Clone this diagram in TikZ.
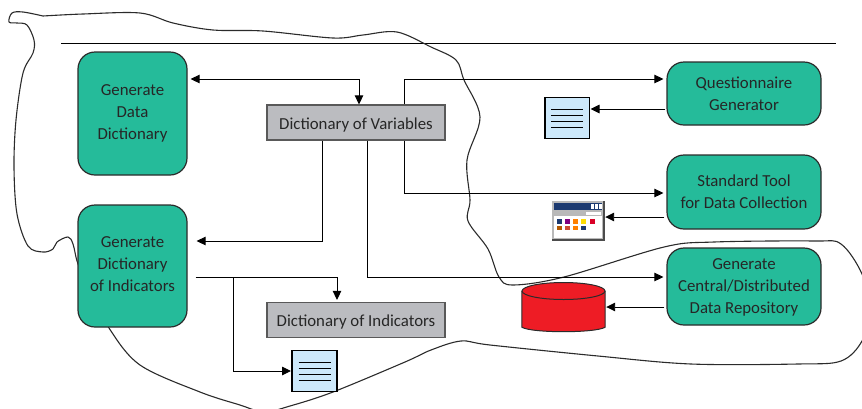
\documentclass[tikz,border=0pt]{standalone}
\usepackage{fontspec}
\setmainfont{Carlito}
\usetikzlibrary{arrows.meta,calc}
\definecolor{teal1}{HTML}{25BB9A}
\definecolor{edge1}{HTML}{2B2B2B}
\definecolor{gray1}{HTML}{BBBCC0}
\definecolor{docblue}{HTML}{CDE9FB}
\definecolor{cylred}{HTML}{EE1C25}
\definecolor{navy1}{HTML}{1C3A70}
\tikzset{
  x=1pt,y=-1pt,
  proc/.style={draw=edge1,fill=teal1,line width=1.2pt,rounded corners=17pt,inner sep=0pt,align=center,
    text=black!85,font=\fontsize{16.8}{22}\selectfont},
  store/.style={draw=black!65,fill=gray1,line width=1.2pt,inner sep=0pt,minimum width=178pt,minimum height=35pt,
    text=black!85,font=\fontsize{16.8}{22}\selectfont},
  docbox/.style={fill=docblue,draw=black,line width=1pt,inner sep=0pt,minimum width=44pt,minimum height=41pt},
  conn/.style={line width=0.95pt,-{Triangle[length=9pt,width=8.5pt]}},
  conn2/.style={line width=0.95pt,{Triangle[length=9pt,width=8.5pt]}-{Triangle[length=9pt,width=8.5pt]}},
  blob/.style={line width=1.1pt,draw=edge1,line join=round},
  docline/.style={line width=0.8pt,black},
}
\newcommand{\up}[1]{\rule{0pt}{#1pt}}
\newcommand{\dn}{\rule[-8pt]{0pt}{8pt}}
\newcommand{\doclines}[1]{%
  \foreach \yy in {-9,-3,3,9} {\draw[docline] ([shift={(-16,\yy)}]#1.center) -- ([shift={(16,\yy)}]#1.center);}%
  \draw[line width=1.8pt] (#1.north west) -- (#1.south west);
  \draw[line width=1.8pt] (#1.north east) -- (#1.south east);
}
\begin{document}
\begin{tikzpicture}
\useasboundingbox (0,0) rectangle (862,408);
\draw[line width=1pt] (61,43) -- (836,43);
% free-form boundary
\draw[blob] plot[smooth,tension=0.55] coordinates {
 (43,16) (83,14) (140,13) (173,23) (213,30) (263,31) (333,38) (363,35) (397,32) (431,47)
 (456,60) (464,80) (480,117) (467,160) (470,200) (468,221) (488,249) (499,277) (513,285)
 (564,277) (664,247) (714,242) (814,241) (841,244) (862,274) (870,310) (862,341) (841,361) (798,364)
 (691,364) (598,356) (490,345) (461,341) (431,350) (405,362) (333,392) (290,406) (264,412) (240,405)
 (200,392) (140,365) (109,328) (90,290) (78,264) (73,244) (68,237) (57,242) (53,249) (43,252) (28,246)
 (17,214) (14,167) (16,120) (23,73) (33,53) (34,40) (27,25) (17,23) (9,22) (12,13) (23,12) (43,16)};
% process nodes
\node[proc,minimum width=109pt,minimum height=123pt] (gdd) at (132.5,113.5) {\up{16}Generate\\Data\\Dictionary\dn};
\node[proc,minimum width=109pt,minimum height=122pt] (gdi) at (132.5,266) {\up{15}Generate\\Dictionary\\of Indicators\dn};
\node[proc,minimum width=154pt,minimum height=63pt] (qg) at (744,93.5) {\up{20}Questionnaire\\Generator\dn};
\node[proc,minimum width=154pt,minimum height=74pt] (stg) at (744,192) {\up{19}Standard Tool\\for Data Collection\dn};
\node[proc,minimum width=154pt,minimum height=77pt] (gcd) at (744,286.5) {\up{18}Generate\\Central/Distributed\\Data Repository\dn};
\node[store] (dov) at (356,122.5) {\up{22}Dictionary of Variables\dn};
\node[store] (doi) at (356,320) {\up{21}Dictionary of Indicators\dn};
% documents
\node[docbox] (doca) at (567,118) {};
\doclines{doca}
\node[docbox] (docb) at (314.5,371) {};
\doclines{docb}
% window icon
\node[fill=black!70,inner sep=0pt,minimum width=53pt,minimum height=40pt] (win) at (578.5,221) {};
\fill[gray!55] ([shift={(0,0)}]win.north west) rectangle ([shift={(-2,-2)}]win.south east);
\fill[white] ([shift={(2,15)}]win.north west) rectangle ([shift={(-3,-3)}]win.south east);
\fill[navy1] ([shift={(2,2)}]win.north west) rectangle ([shift={(-3,9)}]win.north east);
\fill[white] ([shift={(34,11)}]win.north west) rectangle ([shift={(-4,14)}]win.north east);
\foreach \xx in {-14,-10,-6} {\fill[white] ([shift={(\xx,3)}]win.north east) rectangle ([shift={(\xx+3,8)}]win.north east);}
\foreach \xx/\cc in {5/navy1,13/violet,21/orange,29/yellow!80!orange,38/red!70!violet} {
  \fill[\cc] ([shift={(\xx,18)}]win.north west) rectangle ([shift={(\xx+5,23)}]win.north west);}
\foreach \xx/\cc in {5/orange!70!black,13/orange!60!violet,21/orange,29/navy1} {
  \fill[\cc] ([shift={(\xx,25)}]win.north west) rectangle ([shift={(\xx+5,29)}]win.north west);}
% cylinder
\node[inner sep=0pt,minimum width=83pt,minimum height=50pt] (cyl) at (563.5,308) {};
\draw[fill=cylred,line width=1pt,draw=edge1] ([shift={(0,8)}]cyl.north west) -- ([shift={(0,-6)}]cyl.south west)
  .. controls ([shift={(10,0)}]cyl.south west) and ([shift={(-10,0)}]cyl.south east) .. ([shift={(0,-6)}]cyl.south east)
  -- ([shift={(0,8)}]cyl.north east);
\draw[fill=cylred,line width=1pt,draw=edge1] ([shift={(0,-17)}]cyl.center) ellipse [x radius=41.5pt,y radius=8.5pt];
% connectors
\draw[conn2] ([shift={(3,-34.5)}]gdd.east) -| ([xshift=3pt]dov.north);
\draw[conn] ([xshift=48pt]dov.north) |- ([shift={(-3,-14.5)}]qg.west);
\draw[conn] ([xshift=48pt]dov.south) |- ([shift={(-3,1)}]stg.west);
\draw[conn] ([xshift=11pt]dov.south) |- ([shift={(-3,-9.5)}]gcd.west);
\draw[conn] ([xshift=-34pt]dov.south) |- ([shift={(9,-25)}]gdi.east);
\coordinate (gdiout) at ([shift={(8,11)}]gdi.east);
\draw[conn] (gdiout) -| ([shift={(-19,-2)}]doi.north);
\draw[conn] (gdiout -| 233,0) |- ([xshift=-1pt]docb.west);
\draw[conn] ([shift={(-1,15.5)}]qg.west) -- ([shift={(1,-9)}]doca.east);
\draw[conn] ([shift={(-2,25)}]stg.west) -- ([shift={(0,-4)}]win.east);
\draw[conn] ([shift={(-2,20.5)}]gcd.west) -- ([shift={(1,-1)}]cyl.east);
\end{tikzpicture}
\end{document}
